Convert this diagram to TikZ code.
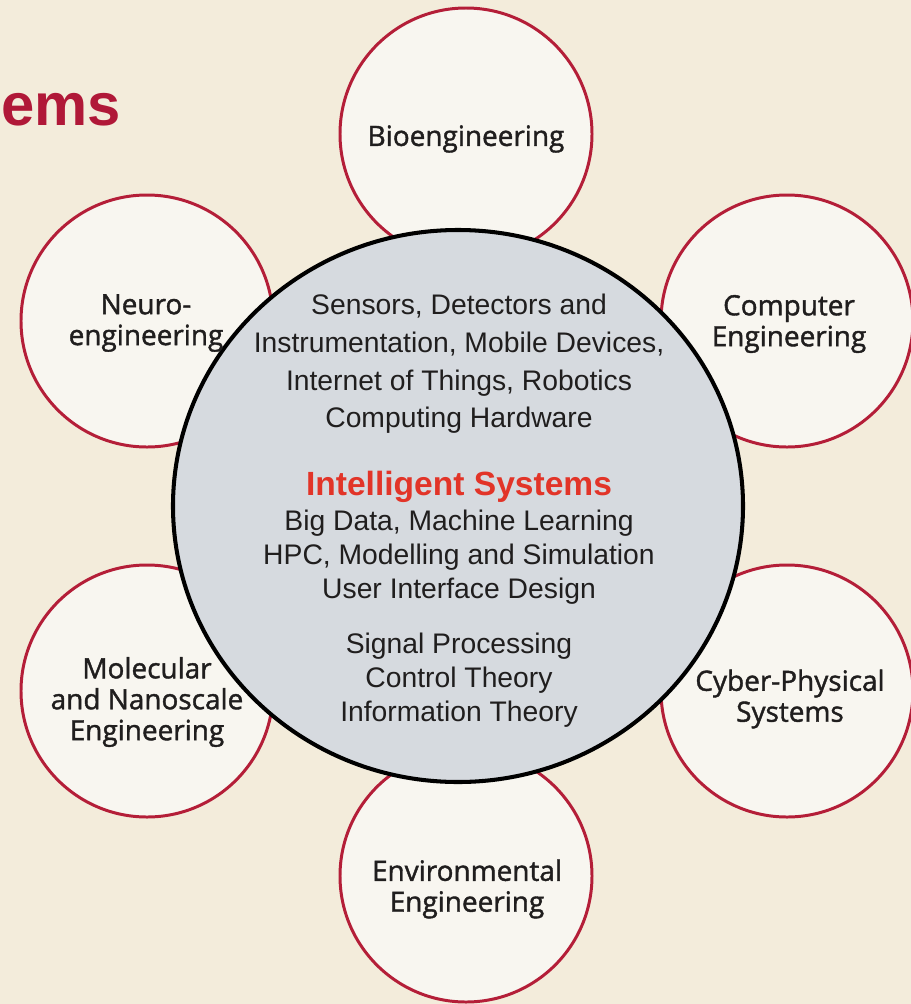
\documentclass[tikz,border=0pt]{standalone}
\usepackage{fontspec}
\newfontfamily\hubfont{Liberation Sans}
\newfontfamily\fieldfont[FakeBold=1.4]{Open Sans}
\usetikzlibrary{shapes.geometric}
\usepackage{xcolor}
\definecolor{paper}{RGB}{243,236,219}
\definecolor{ringred}{RGB}{180,30,56}
\definecolor{ringfill}{RGB}{248,246,240}
\definecolor{hubgray}{RGB}{214,218,223}
\definecolor{ink}{RGB}{32,30,30}
\definecolor{titlered}{RGB}{226,52,40}
\definecolor{headred}{RGB}{176,24,56}

\begin{document}
\begin{tikzpicture}[x=0.2mm, y=-0.2mm,
  field/.style={circle, draw=ringred, fill=ringfill, line width=1.7pt, minimum size=50.4mm, inner sep=0pt},
  hub/.style={ellipse, draw=black, fill=hubgray, line width=2.3pt, minimum width=114mm, minimum height=110.4mm, inner sep=0pt},
  fieldtxt/.style={align=center, text=ink, inner sep=0pt, font=\fieldfont\fontsize{15.9}{17.6}\selectfont},
  topics/.style={align=center, text=ink, inner sep=0pt, font=\hubfont\fontsize{16.1}{19.4}\selectfont}
]
  \fill[paper] (0,0) rectangle (911,1004);
  \useasboundingbox (0,0) rectangle (911,1004);

  % heading, cut at the left border
  \node[anchor=base east, inner sep=0pt, text=headred, font=\hubfont\bfseries\fontsize{34}{40}\selectfont] (heading) at (121,125) {ems};

  % six fields round the hub
  \node[field] (bio) at (466,134) {};
  \node[field] (comp) at (787,321) {};
  \node[field] (cyber) at (787,691) {};
  \node[field] (env) at (466,876) {};
  \node[field] (mol) at (147,691) {};
  \node[field] (neuro) at (147,321) {};

  \node[hub] (hub) at (458,506) {};

  \node[fieldtxt] (biotxt) at (466,139) {Bioengineering};
  \node[fieldtxt] (comptxt) at (789,324) {Computer\\Engineering};
  \node[fieldtxt] (cybertxt) at (790,699) {Cyber-Physical\\Systems};
  \node[fieldtxt] (envtxt) at (467,889) {Environmental\\Engineering};
  \node[fieldtxt] (moltxt) at (147,702) {Molecular\\and Nanoscale\\Engineering};
  \node[fieldtxt] (neurotxt) at (146,323) {Neuro-\\engineering};

  % hub contents
  \node[topics, font=\hubfont\fontsize{16.1}{21.4}\selectfont] (devices) at (459,364)
    {Sensors, Detectors and\\Instrumentation, Mobile Devices,\\Internet of Things, Robotics\\Computing Hardware};
  \node[inner sep=0pt, text=titlered, font=\hubfont\bfseries\fontsize{19.1}{22}\selectfont] (title) at (459,486.5) {Intelligent Systems};
  \node[topics] (data) at (459,557) {Big Data, Machine Learning\\HPC, Modelling and Simulation\\User Interface Design};
  \node[topics] (theory) at (459,680) {Signal Processing\\Control Theory\\Information Theory};
\end{tikzpicture}
\end{document}
